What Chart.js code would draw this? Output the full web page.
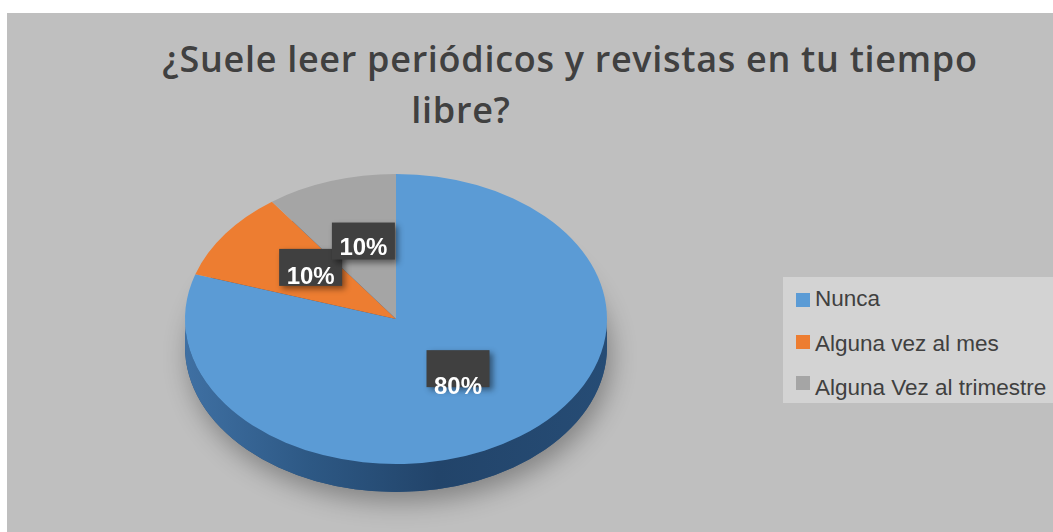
<!DOCTYPE html>
<html>
<head>
<meta charset="utf-8">
<script src="https://cdn.jsdelivr.net/npm/chart.js@4/dist/chart.umd.min.js"></script>
<style>
  html, body { margin: 0; padding: 0; background: #fff; }
  #wrap { position: relative; width: 1053px; height: 532px; overflow: hidden; }
  #bg { position: absolute; left: 7px; top: 13px; right: 0; bottom: 0; background: #bfbfbf; }
  #pie { position: absolute; left: 0; top: 0; }
  .title { position: absolute; font-family: "Open Sans", sans-serif; font-weight: 600; font-size: 36px;
           letter-spacing: 0.7px; color: #404040; white-space: nowrap; transform: translateX(-50%); line-height: 1; }
  #legend { position: absolute; left: 783px; top: 277px; width: 270px; height: 126px; background: #d3d3d3; }
  .lg-box { position: absolute; left: 13px; width: 14px; height: 14px; }
  .lg-txt { position: absolute; left: 32px; font-family: "Liberation Sans", Arial, sans-serif; font-size: 22.5px;
            color: #404040; white-space: nowrap; line-height: 1; }
</style>
</head>
<body>
<div id="wrap">
  <div id="bg"></div>
  <div class="title" style="left:570px; top:41px;">¿Suele leer periódicos y revistas en tu tiempo</div>
  <div class="title" style="left:461px; top:92px;">libre?</div>
  <canvas id="pie" width="1053" height="532"></canvas>
  <div id="legend"></div>
</div>
<script>
// datos
const categories = ['Nunca', 'Alguna vez al mes', 'Alguna Vez al trimestre'];
const percents = [80, 10, 10];
const colors = ['#5b9bd5', '#ed7d31', '#a5a5a5'];

// pie "3D": elipse
const CX = 396, CY = 319, RX = 211, RY = 145, DEPTH = 28;
const SY = RY / RX;

// leyenda
const legend = document.getElementById('legend');
categories.forEach((c, i) => {
  const box = document.createElement('div');
  box.className = 'lg-box';
  box.style.top = (16 + i * 41.6) + 'px';
  box.style.background = colors[i];
  legend.appendChild(box);
  const t = document.createElement('div');
  t.className = 'lg-txt';
  t.style.top = (11 + i * 44.5) + 'px';
  t.textContent = c;
  legend.appendChild(t);
});

function circleCenterY(chart) {
  return (chart.chartArea.top + chart.chartArea.bottom) / 2;
}

const tiltPlugin = {
  id: 'tilt',
  beforeDatasetsDraw(chart) {
    const ctx = chart.ctx;
    const arcs = chart.getDatasetMeta(0).data;
    ctx.save();
    // sombra
    ctx.save();
    ctx.shadowColor = 'rgba(0,0,0,0.32)';
    ctx.shadowBlur = 26;
    ctx.shadowOffsetX = 4;
    ctx.shadowOffsetY = 10;
    ctx.fillStyle = '#2a4f78';
    ctx.beginPath();
    ctx.ellipse(CX, CY + DEPTH, RX, RY, 0, 0, Math.PI * 2);
    ctx.fill();
    ctx.restore();
    // lateral
    const g = ctx.createLinearGradient(CX - RX, 0, CX + RX, 0);
    g.addColorStop(0, '#3f70a3');
    g.addColorStop(0.3, '#2d5884');
    g.addColorStop(0.6, '#22446a');
    g.addColorStop(1, '#264c75');
    arcs.forEach((arc, i) => {
      const a = Math.max(arc.startAngle, 0);
      const b = Math.min(arc.endAngle, Math.PI);
      if (b <= a) return;
      ctx.beginPath();
      ctx.ellipse(CX, CY + DEPTH, RX, RY, 0, a, b);
      ctx.ellipse(CX, CY, RX, RY, 0, b, a, true);
      ctx.closePath();
      ctx.fillStyle = i === 0 ? g : colors[i];
      ctx.fill();
    });
    // aplastar el circulo en elipse
    const cyc = circleCenterY(chart);
    ctx.translate(0, CY);
    ctx.scale(1, SY);
    ctx.translate(0, -cyc);
  },
  afterDatasetsDraw(chart) {
    const ctx = chart.ctx;
    ctx.restore();
    const arcs = chart.getDatasetMeta(0).data;
    const textDy = [19, 10, 7];
    arcs.forEach((arc, i) => {
      const mid = (arc.startAngle + arc.endAngle) / 2;
      const r = arc.outerRadius * 0.5;
      const x = CX + Math.cos(mid) * r;
      const y = CY + Math.sin(mid) * r * SY - 9;
      const w = 63, h = 37;
      ctx.save();
      ctx.shadowColor = 'rgba(0,0,0,0.45)';
      ctx.shadowBlur = 6;
      ctx.shadowOffsetX = 3;
      ctx.shadowOffsetY = 3;
      ctx.fillStyle = '#404040';
      ctx.fillRect(x - w / 2, y - h / 2, w, h);
      ctx.restore();
      ctx.fillStyle = '#ffffff';
      ctx.font = 'bold 24px "Liberation Sans", Arial, sans-serif';
      ctx.textAlign = 'center';
      ctx.textBaseline = 'middle';
      ctx.fillText(percents[i] + '%', x, y + textDy[i]);
    });
  }
};

new Chart(document.getElementById('pie'), {
  type: 'pie',
  data: {
    labels: categories,
    datasets: [{
      data: percents,
      backgroundColor: colors,
      borderWidth: 0,
    }]
  },
  options: {
    responsive: false,
    animation: false,
    events: [],
    layout: {
      padding: { left: CX - RX, right: 1053 - (CX + RX), top: 55, bottom: 55 }
    },
    plugins: {
      legend: { display: false },
      tooltip: { enabled: false },
      title: { display: false }
    }
  },
  plugins: [tiltPlugin]
});
</script>
</body>
</html>
